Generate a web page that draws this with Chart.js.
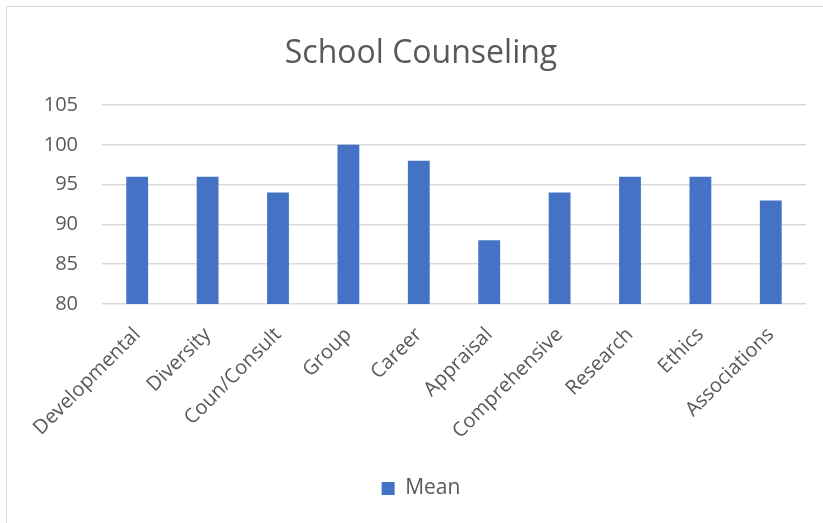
<!DOCTYPE html>
<html>
<head>
<meta charset="utf-8">
<script src="https://cdn.jsdelivr.net/npm/chart.js@4"></script>
<style>
  html, body { margin: 0; padding: 0; background: #fff; }
  #wrap { position: relative; width: 823px; height: 523px; overflow: hidden; }
  #frame { position: absolute; left: 6px; top: 6px; width: 830px; height: 530px;
           border-left: 1.5px solid #d9d9d9; border-top: 1.5px solid #d9d9d9; box-sizing: border-box; }
  canvas { position: absolute; left: 0; top: 0; }
</style>
</head>
<body>
<div id="wrap">
  <div id="frame"></div>
  <canvas id="c" width="823" height="523"></canvas>
</div>
<script>
const categories = ["Developmental", "Diversity", "Coun/Consult", "Group", "Career",
                    "Appraisal", "Comprehensive", "Research", "Ethics", "Associations"];
const meanValues = [96, 96, 94, 100, 98, 88, 94, 96, 96, 93];
const seriesName = "Mean";
const titleText = "School Counseling";
const yMin = 80, yMax = 105, yStep = 5;

const FONT = "'Open Sans', sans-serif";
const TXT = "#595959";

new Chart(document.getElementById("c"), {
  type: "bar",
  data: {
    labels: categories,
    datasets: [{
      label: seriesName,
      data: meanValues,
      backgroundColor: "#4472C4",
      borderWidth: 0,
      barPercentage: 0.31,
      categoryPercentage: 1.0
    }]
  },
  options: {
    responsive: false,
    animation: false,
    devicePixelRatio: 1,
    layout: { padding: { left: 36, right: 17, top: 0, bottom: 14 } },
    plugins: {
      title: {
        display: true,
        text: titleText,
        color: TXT,
        font: { family: FONT, size: 32, weight: "normal" },
        padding: { top: 35, bottom: 31.6 }
      },
      legend: {
        display: true,
        position: "bottom",
        labels: {
          color: TXT,
          font: { family: FONT, size: 21 },
          boxWidth: 13,
          boxHeight: 13,
          padding: 8
        }
      },
      tooltip: { enabled: false }
    },
    scales: {
      x: {
        grid: { display: false, drawTicks: false },
        border: { display: false },
        ticks: {
          color: TXT,
          font: { family: FONT, size: 20 },
          minRotation: 45,
          maxRotation: 45,
          padding: 19,
          autoSkip: false
        },
        afterFit: (s) => { s.height = 166; }
      },
      y: {
        min: yMin,
        max: yMax,
        grid: { color: "#d9d9d9", lineWidth: 1.5, drawTicks: false },
        border: { display: false },
        ticks: {
          stepSize: yStep,
          color: TXT,
          font: { family: FONT, size: 20 },
          padding: 24
        },
        afterFit: (s) => { s.width = 66; }
      }
    }
  }
});
</script>
</body>
</html>
